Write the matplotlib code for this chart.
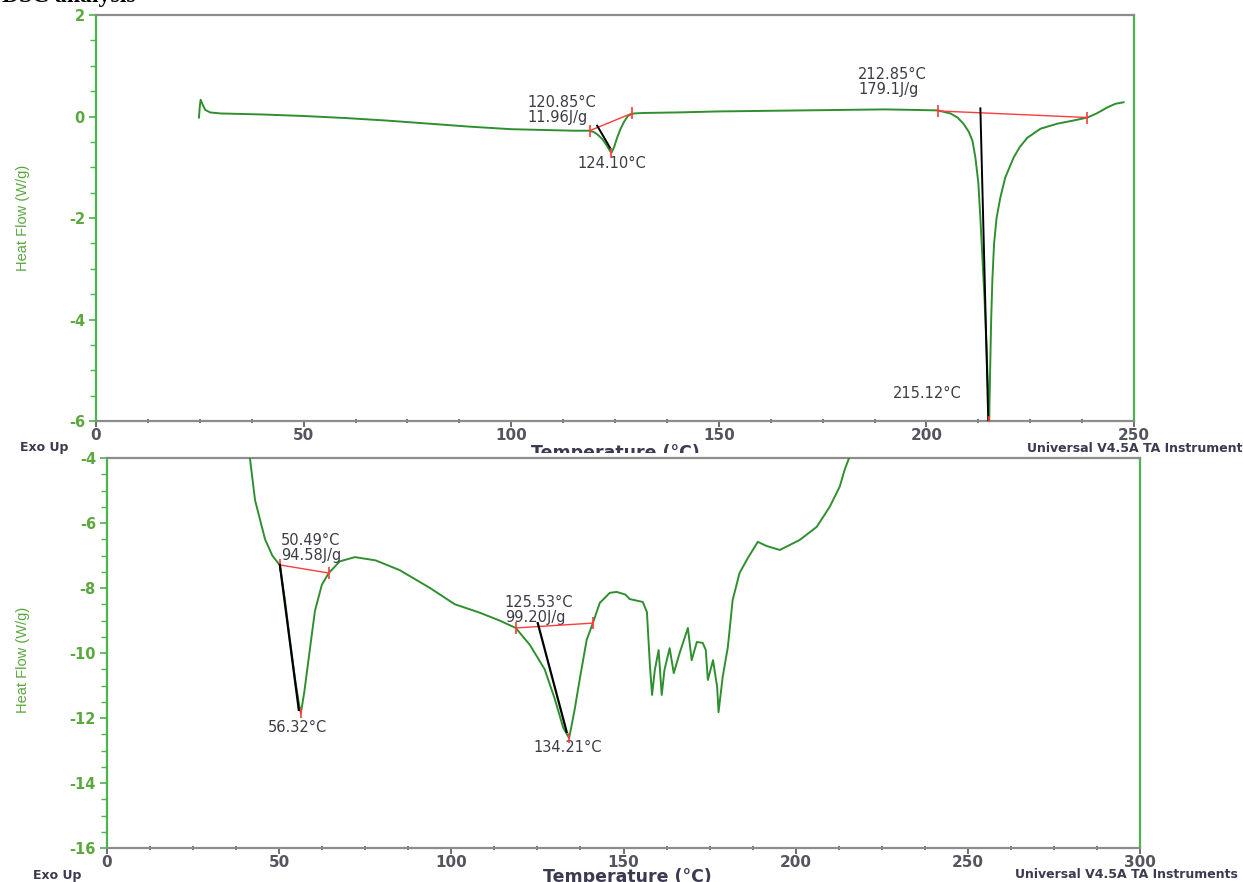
import matplotlib
matplotlib.use("Agg")
import matplotlib.pyplot as plt
from matplotlib.ticker import MultipleLocator
from matplotlib.patches import Rectangle

plt.rcParams['axes.unicode_minus'] = False

# ---------------- data ----------------
top_temp = [24.8, 25.0, 25.2, 25.6, 26.3, 27.5, 30, 35, 40, 50, 60, 70, 80, 90, 100, 105, 110, 115,
            118.9, 120.0, 121.0, 122.0, 123.0, 124.1, 124.8, 125.5, 126.3, 127.2, 128.2, 129.5,
            132, 140, 150, 160, 170, 180, 190, 197, 202.7, 205.8, 207.5, 208.9, 210.2, 211.1,
            211.8, 212.5, 213.0, 213.5, 214.0, 214.5, 214.9, 215.12, 215.35, 215.6, 215.9,
            216.3, 216.9, 217.8, 219.0, 221.0, 222.5, 224.3, 227.5, 231.6, 235.4, 238.8, 241,
            243.6, 245.5, 247.5]
top_heat = [-0.02, 0.2, 0.33, 0.25, 0.13, 0.08, 0.06, 0.05, 0.04, 0.01, -0.03, -0.08, -0.14, -0.2,
            -0.25, -0.26, -0.27, -0.28, -0.28, -0.31, -0.37, -0.45, -0.57, -0.72, -0.6, -0.42,
            -0.25, -0.1, 0.02, 0.06, 0.07, 0.08, 0.1, 0.11, 0.12, 0.13, 0.14, 0.13, 0.12, 0.06,
            -0.02, -0.14, -0.3, -0.48, -0.81, -1.3, -2.0, -2.8, -3.6, -4.6, -5.5, -6.0, -5.0,
            -4.0, -3.2, -2.5, -2.0, -1.6, -1.2, -0.81, -0.6, -0.42, -0.24, -0.14, -0.08, -0.02,
            0.06, 0.18, 0.25, 0.28]

bot_temp = [39.5, 41.5, 43, 45.9, 48, 50.2, 51.7, 53.1, 54.6, 55.8, 56.3, 57.3, 58.9, 60.4, 62.4,
            64.4, 67.6, 72, 78, 85, 93.8, 101, 108, 114, 118.7, 122.8, 127.1, 130, 132.5, 134.21,
            135.8, 137.3, 139.3, 141.1, 143.1, 146, 148.0, 150.5, 151.8, 155.6, 156.8, 157.7,
            158.3, 159.1, 160.2, 161.1, 161.9, 163.4, 164.6, 166.3, 168.7, 169.8, 171.3, 173.0,
            173.9, 174.5, 176.0, 177.2, 177.6, 178.8, 180.3, 181.7, 183.7, 186.1, 189.0, 191.6,
            195.4, 201.2, 206.1, 209.9, 212.8, 214.2, 215.4, 216.5]
bot_heat = [-3.5, -4.0, -5.3, -6.5, -7.0, -7.3, -8.4, -9.6, -10.8, -11.6, -11.85, -11.2, -9.9,
            -8.7, -7.9, -7.54, -7.18, -7.05, -7.15, -7.45, -8.0, -8.5, -8.75, -9.0, -9.23, -9.75,
            -10.5, -11.4, -12.3, -12.62, -11.75, -10.8, -9.6, -9.08, -8.46, -8.15, -8.12, -8.2,
            -8.34, -8.43, -8.74, -10.43, -11.29, -10.52, -9.91, -11.29, -10.52, -9.85, -10.62,
            -10.0, -9.23, -10.22, -9.66, -9.69, -9.91, -10.83, -10.22, -11.05, -11.82, -10.74,
            -9.82, -8.37, -7.54, -7.08, -6.58, -6.71, -6.83, -6.52, -6.12, -5.5, -4.88, -4.37,
            -4.03, -3.6]

# integration baselines (start / end), onset tangents, peak minima
top_base_T = [[118.9, 129.0], [202.7, 238.8]]
top_base_H = [[-0.28, 0.06], [0.11, -0.02]]
top_tan_T = [[120.7, 123.9], [213.0, 214.9]]
top_tan_H = [[-0.18, -0.63], [0.16, -6.0]]
top_peak_T = [124.10, 215.12]
top_peak_H = [-0.72, -6.0]

bot_base_T = [[50.2, 64.4], [118.7, 141.1]]
bot_base_H = [[-7.29, -7.54], [-9.23, -9.08]]
bot_tan_T = [[50.2, 55.7], [125.1, 133.5]]
bot_tan_H = [[-7.29, -11.75], [-9.08, -12.43]]
bot_peak_T = [56.32, 134.21]
bot_peak_H = [-11.85, -12.62]

top_onset_labels = ["120.85°C\n11.96J/g", "212.85°C\n179.1J/g"]
top_peak_labels = ["124.10°C", "215.12°C"]
bot_onset_labels = ["50.49°C\n94.58J/g", "125.53°C\n99.20J/g"]
bot_peak_labels = ["56.32°C", "134.21°C"]

top_xticks = [0, 50, 100, 150, 200, 250]
top_yticks = [-6, -4, -2, 0, 2]
bot_xticks = [0, 50, 100, 150, 200, 250, 300]
bot_yticks = [-16, -14, -12, -10, -8, -6, -4]

# ---------------- styling ----------------
W, H = 1243, 882
GREEN = '#2f8f2f'
AXGREEN = '#4db34d'
LBLGREEN = '#5aa83e'
GRAY = '#8c8c8c'
TXT = '#3a3a50'
NOTE = '#3c3c46'
RED = '#ff3b3b'
NOTE_FS = 10.5

fig = plt.figure(figsize=(W / 100, H / 100), dpi=100)


def fx(px):
    return px / W


def fy(py):
    return 1 - py / H


def style_axes(ax, xticks, yticks):
    ax.set_xticks(xticks)
    ax.set_yticks(yticks)
    ax.xaxis.set_minor_locator(MultipleLocator(12.5))
    ax.yaxis.set_minor_locator(MultipleLocator(0.5))
    for s in ['top', 'bottom']:
        ax.spines[s].set_color(GRAY)
        ax.spines[s].set_linewidth(1.6)
    for s in ['left', 'right']:
        ax.spines[s].set_color(AXGREEN)
        ax.spines[s].set_linewidth(1.6)
    ax.tick_params(axis='y', which='major', direction='out', length=5, width=1.2,
                   color=AXGREEN, labelcolor=LBLGREEN, labelsize=10.5, pad=3)
    ax.tick_params(axis='y', which='minor', direction='out', length=4, width=1.0, color=AXGREEN)
    ax.tick_params(axis='x', which='major', direction='out', length=4, width=1.2,
                   color='#555555', labelcolor='#555560', labelsize=11, pad=1)
    ax.tick_params(axis='x', which='minor', direction='inout', length=3, width=1.2, color='#555555')
    for lab in ax.get_xticklabels() + ax.get_yticklabels():
        lab.set_fontweight('bold')


# top panel
ax1 = fig.add_axes([fx(96), fy(421), fx(1134 - 96), (421 - 15) / H], zorder=0)
ax1.plot(top_temp, top_heat, color=GREEN, lw=1.4, zorder=3)
for bt, bh in zip(top_base_T, top_base_H):
    ax1.plot(bt, bh, color=RED, lw=1.0, marker='|', ms=9, mew=1.2, zorder=4)
for tt, th in zip(top_tan_T, top_tan_H):
    ax1.plot(tt, th, color='black', lw=1.4, zorder=4)
ax1.plot(top_peak_T, top_peak_H, ls='none', marker='|', ms=7, mew=1.2, color=RED, zorder=5)
ax1.text(103.9, 0.12, top_onset_labels[0], fontsize=NOTE_FS, color=NOTE, va='center', linespacing=1.0)
ax1.text(183.6, 0.68, top_onset_labels[1], fontsize=NOTE_FS, color=NOTE, va='center', linespacing=1.0)
ax1.text(124.3, -0.93, top_peak_labels[0], fontsize=NOTE_FS, color=NOTE, ha='center', va='center')
ax1.text(200.2, -5.46, top_peak_labels[1], fontsize=NOTE_FS, color=NOTE, ha='center', va='center')
ax1.set_xlim(0, 250)
ax1.set_ylim(-6, 2)
style_axes(ax1, top_xticks, top_yticks)

# bottom panel
ax2 = fig.add_axes([fx(107), fy(848), fx(1140 - 107), (848 - 458) / H], zorder=1)
ax2.plot(bot_temp, bot_heat, color=GREEN, lw=1.4, zorder=3)
for bt, bh in zip(bot_base_T, bot_base_H):
    ax2.plot(bt, bh, color=RED, lw=1.0, marker='|', ms=8, mew=1.2, zorder=4)
for tt, th in zip(bot_tan_T, bot_tan_H):
    ax2.plot(tt, th, color='black', lw=1.6, zorder=4)
ax2.plot(bot_peak_T, bot_peak_H, ls='none', marker='|', ms=7, mew=1.2, color=RED, zorder=5)
ax2.text(50.5, -6.77, bot_onset_labels[0], fontsize=NOTE_FS, color=NOTE, va='center', linespacing=1.0)
ax2.text(115.5, -8.67, bot_onset_labels[1], fontsize=NOTE_FS, color=NOTE, va='center', linespacing=1.0)
ax2.text(55.2, -12.3, bot_peak_labels[0], fontsize=NOTE_FS, color=NOTE, ha='center', va='center')
ax2.text(133.8, -12.92, bot_peak_labels[1], fontsize=NOTE_FS, color=NOTE, ha='center', va='center')
ax2.set_xlim(0, 300)
ax2.set_ylim(-16, -4)
style_axes(ax2, bot_xticks, bot_yticks)

# top panel x label (lower half hidden behind the second screenshot)
fig.text(fx(615), fy(444), "Temperature (°C)", fontsize=12.5, fontweight='bold', color=TXT,
         ha='center', va='top', zorder=0.3)
cover = Rectangle((0, 0), 1, fy(453), transform=fig.transFigure, facecolor='white',
                  edgecolor='none', zorder=0.5)
fig.add_artist(cover)

# footers
fig.text(fx(20), fy(448), "Exo Up", fontsize=9, fontweight='bold', color=TXT, va='center', zorder=3)
fig.text(fx(1027), fy(448), "Universal V4.5A TA Instruments", fontsize=9, fontweight='bold',
         color=TXT, va='center', zorder=3)
fig.text(fx(33), fy(876), "Exo Up", fontsize=9, fontweight='bold', color=TXT, va='center')
fig.text(fx(1015), fy(875), "Universal V4.5A TA Instruments", fontsize=9, fontweight='bold',
         color=TXT, va='center')
fig.text(fx(627), fy(868), "Temperature (°C)", fontsize=12.5, fontweight='bold', color=TXT,
         ha='center', va='top')

# y labels
fig.text(fx(23), fy(218), "Heat Flow (W/g)", rotation=90, fontsize=10.5, color=LBLGREEN,
         ha='center', va='center', family='Liberation Sans')
fig.text(fx(23), fy(660), "Heat Flow (W/g)", rotation=90, fontsize=10.5, color=LBLGREEN,
         ha='center', va='center', family='Liberation Sans')

# cut-off heading at the very top
fig.text(fx(2), fy(2), "DSC analysis", fontsize=17, fontweight='bold', color='black',
         family=['Liberation Serif', 'DejaVu Serif'], va='baseline')

fig.savefig("out.png", dpi=100)
